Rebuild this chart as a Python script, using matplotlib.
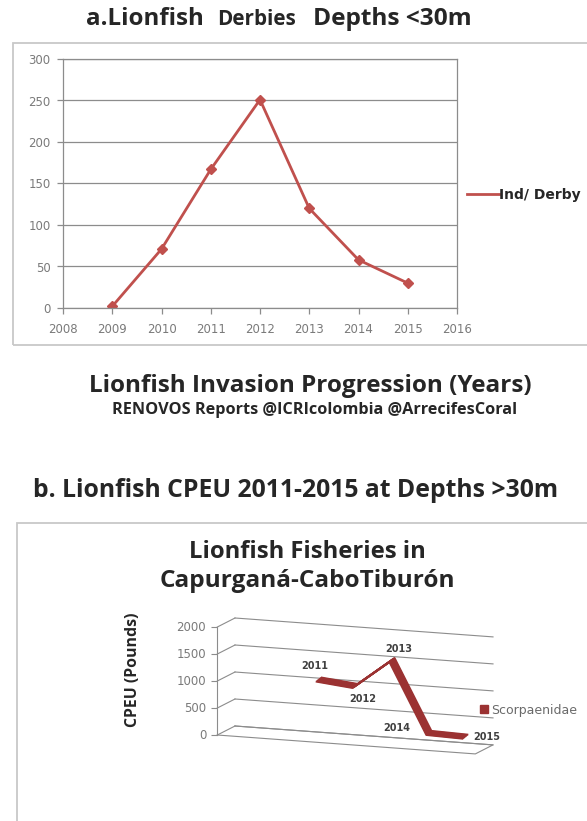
import matplotlib
matplotlib.use('Agg')
import matplotlib.pyplot as plt
import numpy as np
from matplotlib.patches import Rectangle
from matplotlib.lines import Line2D
from matplotlib.transforms import ScaledTranslation

# =============================================================================
# Data
# =============================================================================
years_a = [2009, 2010, 2011, 2012, 2013, 2014, 2015]
derby_a = [2, 71, 167, 251, 120, 58, 30]
xticks_a = list(range(2008, 2017))
yticks_a = [0, 50, 100, 150, 200, 250, 300]

years_b = [2011, 2012, 2013, 2014, 2015]
cpeu_b = [1070, 1000, 1530, 230, 210]
yticks_b = [0, 500, 1000, 1500, 2000]
cat_lo, cat_hi = 2008.5, 2015.5

W, H = 587, 821
fig = plt.figure(figsize=(W/100., H/100.), dpi=100)
fig.patch.set_facecolor('white')
renderer = fig.canvas.get_renderer()

def fx(px):
    return px/float(W)
def fy(py):
    return 1 - py/float(H)

title_font = 'Open Sans'
dark = '#262626'
gray_txt = '#7a7a7a'
grid_c = '#8c8c8c'
red_a = '#c0504d'
red_b = '#9b3232'

def fit_text(s, x_left, x_right, y_base, rotation=0, **kw):
    # put a bold title between two pixel columns (or rows if rotated)
    t = fig.text(fx((x_left + x_right)/2.), fy(y_base), s, fontsize=10, fontweight='bold',
                 family=title_font, color=dark, ha='center', va='baseline',
                 rotation=rotation, **kw)
    bb = t.get_window_extent(renderer)
    span = bb.height if rotation else bb.width
    t.set_fontsize(10.*(x_right - x_left)/span)
    return t

# =============================================================================
# Panel a
# =============================================================================
fit_text('a.Lionfish', 86, 204, 25)
fit_text('Derbies', 217, 296, 25)
fit_text('Depths <30m', 313, 472, 25)

fig.add_artist(Rectangle((fx(13), fy(345)), 1.0, (345-43)/float(H), transform=fig.transFigure,
                         fill=False, ec='#c8c8c8', lw=1.3))

ax = fig.add_axes([fx(63), fy(308), fx(457)-fx(63), (308-59)/float(H)])
ax.plot(years_a, derby_a, color=red_a, lw=2.0, marker='D', ms=5, mfc=red_a, mec=red_a)
ax.set_xlim(2008, 2016)
ax.set_ylim(0, 300)
ax.set_xticks(xticks_a)
ax.set_yticks(yticks_a)
ax.yaxis.grid(True, color=grid_c, lw=0.9)
ax.set_axisbelow(True)
for s in ax.spines.values():
    s.set_color(grid_c)
    s.set_linewidth(0.9)
ax.tick_params(colors=grid_c, length=4, width=0.9, labelcolor=gray_txt, labelsize=8.5)
ax.tick_params(axis='x', pad=7)
ax.tick_params(axis='y', pad=5)
ax.legend(handles=[Line2D([], [], color=red_a, lw=2.0)], labels=['Ind/ Derby'],
          loc='center left', bbox_to_anchor=(fx(467), fy(195)), bbox_transform=fig.transFigure,
          frameon=False, borderpad=0, borderaxespad=0, handletextpad=0.0, handlelength=2.3,
          prop={'weight': 'bold', 'size': 10})
for t in ax.get_legend().get_texts():
    t.set_color(dark)

fit_text('Lionfish Invasion Progression (Years)', 88, 532, 392)
fit_text('RENOVOS Reports @ICRIcolombia @ArrecifesCoral', 112, 517, 414)

# =============================================================================
# Panel b (pseudo 3-D line chart)
# =============================================================================
fit_text('b. Lionfish CPEU 2011-2015 at Depths >30m', 34, 558, 497)
fig.add_artist(Rectangle((fx(17), fy(840)), 1.0, (840-523)/float(H), transform=fig.transFigure,
                         fill=False, ec='#c8c8c8', lw=1.3))
fit_text('Lionfish Fisheries in', 189, 425, 558)
fit_text('Capurganá-CaboTiburón', 159, 455, 587)
cp = fit_text('CPEU (Pounds)', 613, 727, 670, rotation=90)
cp.set_position((fx(133), fy(670)))
cp.set_va('center')

ax2 = fig.add_axes([fx(235), fy(726), fx(493)-fx(235), (726-618)/float(H)])
ax2.set_xlim(cat_lo, cat_hi)
ax2.set_ylim(0, 2000)
ax2.axis('off')

# shear along years and depth offset (front = 1, back = 0)
shear = 50.
dep_x, dep_y = -0.48, -167.

def proj(u, v, d):
    u = np.asarray(u, dtype=float)
    v = np.asarray(v, dtype=float)
    d = np.asarray(d, dtype=float)
    return u + d*dep_x, v - shear*(u - cat_lo) + d*dep_y

wall_kw = dict(color=grid_c, lw=0.8, clip_on=False)
for v in yticks_b:
    X, Y = proj([cat_lo, cat_hi], [v, v], 0)
    ax2.plot(X, Y, **wall_kw)
    X1, Y1 = proj([cat_lo, cat_lo], [v, v], [1, 0])
    ax2.plot(X1, Y1, **wall_kw)
    ax2.plot(X1[0], Y1[0], marker=0, ms=4, mew=0.8, color=grid_c, clip_on=False)
    ax2.annotate(str(v), (X1[0], Y1[0]), xytext=(-8, 0), textcoords='offset points',
                 ha='right', va='center', fontsize=8.5, color=gray_txt, annotation_clip=False)
X, Y = proj([cat_lo, cat_lo], [0, 2000], 1)
ax2.plot(X, Y, **wall_kw)
X, Y = proj([cat_lo, cat_hi, cat_hi, cat_lo], [0, 0, 0, 0], [1, 1, 0, 0])
ax2.plot(X, Y, **wall_kw)

# ribbon line at mid depth
X, Y = proj(years_b, cpeu_b, 0.5)
for t in np.linspace(-1, 1, 9):
    off = ScaledTranslation(t*2.6/100., t*2.1/100., fig.dpi_scale_trans)
    ax2.plot(X, Y, color=red_b, lw=1.3, solid_joinstyle='round', solid_capstyle='butt',
             transform=ax2.transData + off, clip_on=False)

lab_off = [(-4, 13), (8, -13), (7, 11), (-32, 5), (21, 0)]
for xx, yy, yr, (ox, oy) in zip(X, Y, years_b, lab_off):
    ax2.annotate(str(yr), (xx, yy), xytext=(ox*0.72, oy*0.72), textcoords='offset points',
                 ha='center', va='center', fontsize=7, fontweight='bold', color='#404040',
                 annotation_clip=False)

ax2.legend(handles=[Line2D([], [], marker='s', ls='none', ms=5.5, color=red_b)],
           labels=['Scorpaenidae'], loc='center left', bbox_to_anchor=(fx(479), fy(710)),
           bbox_transform=fig.transFigure, frameon=False, borderpad=0, borderaxespad=0,
           handletextpad=0.15, handlelength=0.8, prop={'size': 9})
for t in ax2.get_legend().get_texts():
    t.set_color('#6a6a6a')

plt.savefig('out.png', dpi=100)
